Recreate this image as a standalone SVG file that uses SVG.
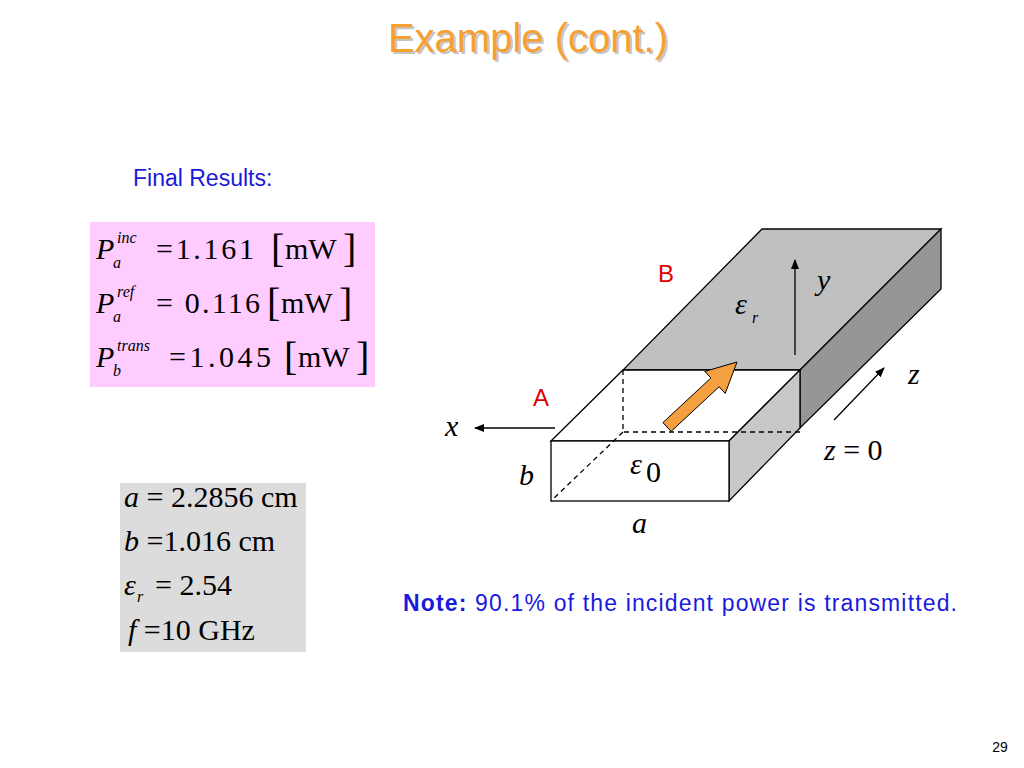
<svg xmlns="http://www.w3.org/2000/svg" width="1024" height="768" viewBox="0 0 1024 768">
<defs>
<marker id="ah" markerWidth="10" markerHeight="8" refX="9" refY="4" orient="auto" markerUnits="userSpaceOnUse"><path d="M0,0 L10,4 L0,8 z" fill="#000"/></marker>
<style>
.m{font-family:"Liberation Serif",serif;font-size:30px;fill:#000}
.i{font-style:italic}
.s{font-family:"Liberation Serif",serif;font-size:16px;font-style:italic}
.ln{stroke:#000;stroke-width:1.3;fill:none}
.f{stroke:#000;stroke-width:1.3}
.d{stroke:#000;stroke-width:1.3;stroke-dasharray:5,4;fill:none}
.sans{font-family:"Liberation Sans",Arial,sans-serif}
.br{font-family:"Liberation Serif",serif;font-size:40px;fill:#000}
</style>
</defs>
<rect width="1024" height="768" fill="#fff"/>
<text x="528" y="52" text-anchor="middle" class="sans" font-size="40" fill="#a0a0a0" opacity="0.6" transform="translate(2,2)">Example (cont.)</text>
<text x="528" y="52" text-anchor="middle" class="sans" font-size="40" fill="#f5a030">Example (cont.)</text>
<text x="133" y="186" class="sans" font-size="23" fill="#1a1adc">Final Results:</text>
<g id="results">
<rect x="90" y="222" width="285" height="165" fill="#ffccff"/>
<text class="m i" x="96" y="259">P</text><text class="s" x="117" y="243">inc</text><text class="s" x="113" y="268">a</text>
<text class="m" x="156" y="259" textLength="98">=1.161</text><text class="br" x="271" y="262">[</text><text class="m" x="285" y="259">mW</text><text class="br" x="343" y="262">]</text>
<text class="m" x="156" y="313" textLength="104">= 0.116</text><text class="br" x="267" y="316">[</text><text class="m" x="281" y="313">mW</text><text class="br" x="339" y="316">]</text>
<text class="m i" x="96" y="313">P</text><text class="s" x="117" y="297">ref</text><text class="s" x="113" y="322">a</text>
<text class="m i" x="96" y="367">P</text><text class="s" x="117" y="351">trans</text><text class="s" x="113" y="376">b</text>
<text class="m" x="169" y="367" textLength="102">=1.045</text><text class="br" x="284" y="370">[</text><text class="m" x="298" y="367">mW</text><text class="br" x="356" y="370">]</text>
</g>
<g id="params">
<rect x="120" y="483" width="186" height="169" fill="#dcdcdc"/>
<text class="m" x="124" y="507" font-size="27"><tspan class="i">a</tspan> = 2.2856 cm</text>
<text class="m" x="124" y="551" font-size="27"><tspan class="i">b</tspan> =1.016 cm</text>
<text class="m i" x="124" y="595" font-size="27">ε</text><text class="s" x="137" y="602">r</text><text class="m" x="155" y="595" font-size="27">= 2.54</text>
<text class="m" x="128" y="640" font-size="27"><tspan class="i">f</tspan> =10 GHz</text>
</g>
<g id="guide">
<polygon points="762,229 941,229 800,370 623,370" fill="#c0c0c0" class="f"/>
<polygon points="800,370 941,229 941,289 800,428" fill="#969696" class="f"/>
<polygon points="551,441 623,370 800,370 729,441" fill="#fff" class="f"/>
<polygon points="729,441 800,370 800,428 729,501" fill="#c8c8c8" class="f"/>
<rect x="551" y="441" width="178" height="60" fill="#fff" class="f"/>
<path d="M623,370 V432 H800 M623,432 L551,501" class="d"/>
<polygon points="662.9,422.6 710.9,378 704.8,371.4 737,362 725.2,393.4 719.1,386.8 671.1,431.4" fill="#f5a040" stroke="#000" stroke-width="1"/>
</g>
<g id="connectors">
<line x1="795" y1="355" x2="795" y2="260" class="ln" marker-end="url(#ah)"/>
<line x1="834" y1="420" x2="884" y2="368" class="ln" marker-end="url(#ah)"/>
<line x1="555" y1="428" x2="475" y2="428" class="ln" marker-end="url(#ah)"/>
</g>
<g id="labels">
<text x="666" y="282" text-anchor="middle" class="sans" font-size="24" fill="#e00000">B</text>
<text x="541" y="406" text-anchor="middle" class="sans" font-size="24" fill="#e00000">A</text>
<text class="m i" x="817" y="290" font-size="24">y</text>
<text class="m i" x="735" y="314" font-size="30">ε</text><text class="s" x="752" y="323">r</text>
<text class="m i" x="908" y="384" font-size="24">z</text>
<text class="m" x="824" y="460" font-size="24"><tspan class="i">z</tspan> = 0</text>
<text class="m i" x="630" y="474" font-size="30">ε</text><text class="m" x="646" y="482" font-size="17">0</text>
<text class="m i" x="519" y="485" font-size="24">b</text>
<text class="m i" x="632" y="533" font-size="24">a</text>
<text class="m i" x="445" y="436" font-size="24">x</text>
</g>
<text x="403" y="611" class="sans" font-size="23" fill="#1a1adc" textLength="554"><tspan font-weight="bold">Note:</tspan> 90.1% of the incident power is transmitted.</text>
<text x="1000" y="752" text-anchor="middle" class="sans" font-size="14">29</text>
</svg>
